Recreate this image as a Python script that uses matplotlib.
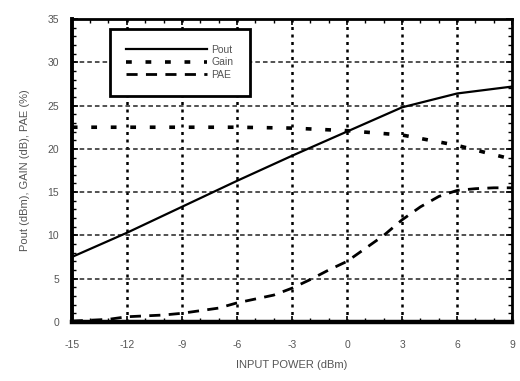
import numpy as np
import matplotlib
matplotlib.use("Agg")
from matplotlib import pyplot as plt
from matplotlib.ticker import MultipleLocator

plt.rcParams['font.family'] = ['Liberation Sans', 'DejaVu Sans']
plt.rcParams['axes.unicode_minus'] = False

# values
pin = [-15, -12, -9, -6, -3, 0, 3, 6, 9]
pout = [7.5, 10.3, 13.3, 16.3, 19.2, 22.0, 24.8, 26.4, 27.2]
gain = [22.5, 22.5, 22.5, 22.5, 22.4, 22.1, 21.6, 20.4, 18.8]
pae_x = [-15, -13, -12, -10, -9, -7, -6, -4, -3, -2, -1, 0, 1, 2, 3, 4, 5, 6, 7, 8, 9]
pae = [0.1, 0.3, 0.6, 0.8, 1.0, 1.6, 2.2, 3.1, 3.9, 4.9, 6.0, 7.0, 8.5, 10.0, 11.8,
       13.3, 14.5, 15.2, 15.4, 15.5, 15.5]
xticks = [-15, -12, -9, -6, -3, 0, 3, 6, 9]
yticks = [0, 5, 10, 15, 20, 25, 30, 35]

fig = plt.figure(figsize=(5.2, 3.81), dpi=100)
ax = fig.add_axes([0.138, 0.155, 0.847, 0.795])

# grid
for xv in xticks[1:-1]:
    ax.axvline(xv, color='black', lw=1.8, ls=(0, (1.2, 1.8)), zorder=1)
for yv in yticks[1:-1]:
    ax.axhline(yv, color='#222222', lw=1.1, ls=(0, (3, 2)), zorder=1)

ax.plot(pin, pout, color='black', lw=1.6, label='Pout', zorder=3)
ax.plot(pin, gain, color='black', lw=2.6, ls=(0, (1.6, 3.8)), label='Gain', zorder=3)
ax.plot(pae_x, pae, color='black', lw=2.0, ls=(0, (4, 3)), label='PAE', zorder=3)

ax.set_xlim(-15, 9)
ax.set_ylim(0, 35)
ax.set_xticks(xticks)
ax.set_yticks(yticks)
ax.xaxis.set_minor_locator(MultipleLocator(1))
ax.yaxis.set_minor_locator(MultipleLocator(1))
ax.tick_params(which='both', direction='in', top=True, right=True, colors='black',
               labelcolor='#555555', labelsize=7.5)
ax.tick_params(which='major', length=4, width=1.2)
ax.tick_params(which='minor', length=3, width=1.0)
ax.tick_params(axis='x', pad=13)
ax.tick_params(axis='y', pad=9)

for side, w in [('left', 2.8), ('bottom', 3.2), ('top', 2.0), ('right', 2.0)]:
    ax.spines[side].set_linewidth(w)

ax.set_xlabel('INPUT POWER (dBm)', color='#555555', fontsize=8, labelpad=7)
ax.set_ylabel('Pout (dBm), GAIN (dB), PAE (%)', color='#555555', fontsize=8, labelpad=13)

leg = ax.legend(loc='upper left', bbox_to_anchor=(0.075, 0.985), markerfirst=True,
                fontsize=7.5, handlelength=7.8, handletextpad=0.4, labelspacing=0.22,
                borderpad=1.55, fancybox=False, framealpha=1, edgecolor='black')
leg.get_frame().set_linewidth(2.0)
for t in leg.get_texts():
    t.set_color('#555555')
leg.set_zorder(5)

fig.savefig('out.png', dpi=100)
